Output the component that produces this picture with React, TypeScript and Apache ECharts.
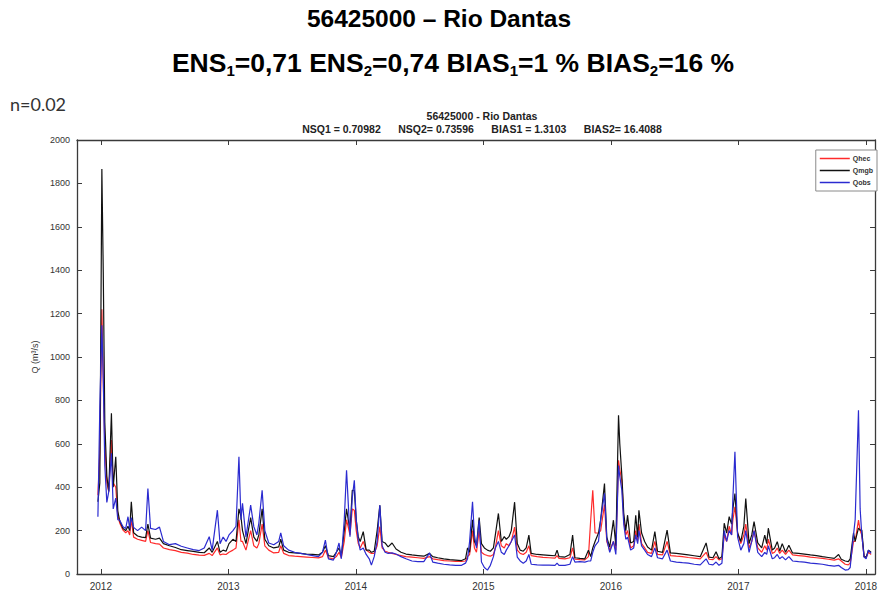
import React, { useEffect, useRef } from "react";
import * as echarts from "echarts";

const T = [
  2011.977, 2011.992, 2012.008, 2012.019, 2012.031, 2012.047, 2012.062, 2012.083, 2012.097, 2012.117,
  2012.133, 2012.148, 2012.174, 2012.195, 2012.213, 2012.226, 2012.239, 2012.257, 2012.288, 2012.320,
  2012.351, 2012.369, 2012.390, 2012.429, 2012.460, 2012.491, 2012.538, 2012.585, 2012.631, 2012.678,
  2012.725, 2012.772, 2012.811, 2012.850, 2012.873, 2012.914, 2012.935, 2012.959, 2012.982, 2013.005,
  2013.036, 2013.060, 2013.083, 2013.099, 2013.111, 2013.138, 2013.175, 2013.200, 2013.224, 2013.239,
  2013.265, 2013.286, 2013.317, 2013.356, 2013.395, 2013.411, 2013.434, 2013.473, 2013.520, 2013.567,
  2013.613, 2013.660, 2013.707, 2013.738, 2013.761, 2013.785, 2013.824, 2013.847, 2013.868, 2013.886,
  2013.909, 2013.927, 2013.954, 2013.972, 2013.988, 2014.003, 2014.019, 2014.034, 2014.058, 2014.081,
  2014.105, 2014.122, 2014.144, 2014.167, 2014.188, 2014.206, 2014.229, 2014.253, 2014.284, 2014.315,
  2014.354, 2014.393, 2014.440, 2014.486, 2014.533, 2014.578, 2014.603, 2014.642, 2014.689, 2014.736,
  2014.783, 2014.829, 2014.860, 2014.876, 2014.892, 2014.915, 2014.930, 2014.946, 2014.967, 2014.985,
  2015.008, 2015.032, 2015.055, 2015.079, 2015.094, 2015.118, 2015.141, 2015.164, 2015.180, 2015.201,
  2015.219, 2015.245, 2015.266, 2015.289, 2015.313, 2015.336, 2015.357, 2015.375, 2015.422, 2015.468,
  2015.515, 2015.562, 2015.578, 2015.593, 2015.640, 2015.679, 2015.700, 2015.718, 2015.757, 2015.796,
  2015.824, 2015.842, 2015.858, 2015.876, 2015.903, 2015.920, 2015.950, 2015.968, 2015.991, 2016.020,
  2016.039, 2016.060, 2016.070, 2016.086, 2016.101, 2016.117, 2016.131, 2016.155, 2016.179, 2016.195,
  2016.210, 2016.220, 2016.241, 2016.265, 2016.288, 2016.319, 2016.345, 2016.366, 2016.405, 2016.441,
  2016.467, 2016.514, 2016.561, 2016.607, 2016.654, 2016.701, 2016.747, 2016.770, 2016.801, 2016.825,
  2016.848, 2016.871, 2016.889, 2016.908, 2016.928, 2016.947, 2016.957, 2016.973, 2016.994, 2017.019,
  2017.043, 2017.058, 2017.084, 2017.105, 2017.123, 2017.152, 2017.183, 2017.207, 2017.222, 2017.235,
  2017.266, 2017.284, 2017.305, 2017.324, 2017.344, 2017.370, 2017.396, 2017.425, 2017.472, 2017.518,
  2017.565, 2017.612, 2017.659, 2017.705, 2017.752, 2017.786, 2017.807, 2017.838, 2017.862, 2017.877,
  2017.903, 2017.916, 2017.942, 2017.955, 2017.968, 2017.986, 2018.002, 2018.020, 2018.041,
];

// Qhec (red)
const QHEC = [
  363, 560, 1220, 900, 600, 420, 380, 617, 420, 400,
  270, 235, 202, 190, 200, 180, 250, 170, 160, 155,
  150, 200, 145, 140, 138, 120, 112, 108, 100, 96,
  90, 87, 86, 95, 85, 120, 88, 92, 90, 100,
  110, 120, 250, 150, 150, 110, 200, 130, 120, 140,
  230, 130, 110, 97, 100, 130, 95, 85, 82, 80,
  78, 76, 74, 80, 110, 75, 70, 80, 100, 75,
  150, 250, 180, 300, 294, 200, 140, 120, 150, 110,
  100, 95, 95, 130, 218, 120, 105, 100, 95, 90,
  85, 80, 78, 75, 72, 80, 70, 66, 62, 60,
  58, 58, 60, 80, 90, 200, 120, 100, 200, 100,
  90, 85, 82, 90, 120, 200, 130, 120, 140, 130,
  150, 216, 110, 95, 90, 100, 130, 85, 80, 77,
  75, 73, 85, 72, 70, 75, 120, 68, 66, 65,
  80, 250, 386, 189, 189, 200, 320, 150, 110, 150,
  110, 524, 480, 432, 250, 180, 200, 120, 130, 200,
  150, 230, 140, 120, 100, 95, 150, 90, 88, 150,
  85, 82, 80, 76, 73, 70, 100, 68, 66, 80,
  65, 70, 180, 150, 220, 180, 250, 310, 189, 140,
  180, 230, 120, 150, 200, 120, 100, 130, 110, 160,
  95, 100, 120, 95, 110, 90, 110, 88, 85, 82,
  78, 75, 72, 68, 64, 70, 60, 45, 42, 50,
  150, 150, 248, 200, 180, 80, 75, 100, 90,
];

// Qmgb (black)
const QMGB = [
  333, 420, 1866, 1391, 700, 450, 380, 741, 400, 540,
  290, 245, 210, 200, 220, 200, 333, 190, 175, 170,
  168, 230, 165, 160, 165, 140, 130, 122, 112, 108,
  104, 100, 98, 120, 100, 150, 100, 110, 105, 140,
  160, 150, 300, 264, 200, 140, 260, 170, 150, 180,
  300, 160, 130, 120, 125, 160, 110, 100, 97, 95,
  92, 90, 88, 100, 130, 85, 80, 100, 120, 85,
  200, 300, 200, 386, 386, 250, 170, 150, 195, 110,
  110, 100, 105, 200, 317, 150, 143, 125, 143, 115,
  100, 92, 88, 85, 82, 95, 80, 75, 70, 66,
  64, 62, 70, 120, 100, 250, 150, 130, 260, 140,
  120, 110, 105, 120, 180, 279, 150, 172, 160, 172,
  200, 331, 140, 110, 105, 120, 179, 95, 90, 88,
  86, 84, 110, 80, 78, 90, 179, 75, 72, 70,
  110, 80, 120, 150, 189, 250, 417, 170, 124, 248,
  130, 731, 600, 455, 280, 200, 271, 143, 150, 271,
  170, 294, 189, 150, 124, 110, 195, 105, 100, 202,
  97, 95, 92, 88, 84, 80, 143, 78, 75, 103,
  70, 80, 234, 189, 264, 230, 300, 371, 189, 150,
  220, 348, 140, 180, 241, 143, 120, 179, 140, 211,
  110, 120, 149, 105, 140, 100, 133, 97, 95, 92,
  88, 85, 80, 76, 72, 90, 68, 60, 57, 70,
  189, 150, 211, 202, 202, 80, 78, 110, 100,
];

// Qobs (blue)
const QOBS = [
  264, 770, 1146, 900, 500, 330, 380, 556, 300, 350,
  250, 248, 218, 210, 264, 210, 260, 215, 200, 216,
  200, 394, 210, 205, 216, 150, 135, 140, 128, 120,
  112, 108, 120, 172, 110, 294, 140, 170, 150, 180,
  200, 220, 540, 250, 326, 170, 317, 218, 180, 234,
  386, 200, 143, 135, 150, 189, 130, 110, 100, 95,
  90, 85, 80, 100, 156, 70, 64, 100, 143, 70,
  250, 478, 172, 350, 432, 250, 156, 110, 120, 90,
  70, 41, 80, 150, 317, 130, 100, 95, 97, 92,
  80, 70, 60, 57, 57, 97, 55, 50, 45, 42,
  40, 40, 50, 70, 150, 333, 180, 120, 248, 55,
  30, 18, 40, 80, 120, 150, 100, 90, 110, 130,
  150, 180, 78, 60, 50, 60, 90, 45, 42, 41,
  41, 40, 50, 40, 40, 45, 80, 55, 57, 55,
  60, 60, 100, 130, 150, 250, 372, 160, 100, 150,
  90, 500, 450, 386, 230, 160, 170, 110, 120, 180,
  140, 200, 130, 110, 90, 80, 120, 75, 70, 110,
  60, 55, 52, 50, 45, 42, 70, 45, 42, 55,
  40, 50, 200, 150, 200, 180, 350, 563, 170, 110,
  140, 200, 100, 150, 200, 100, 80, 100, 90, 130,
  70, 75, 90, 70, 80, 65, 80, 60, 57, 55,
  50, 48, 45, 40, 36, 40, 30, 18, 20, 30,
  180, 250, 754, 300, 180, 78, 70, 110, 95,
];

const YEAR_TICKS = [2012, 2013, 2014, 2015, 2016, 2017, 2018];
const SERIES_NAMES = ["Qhec", "Qmgb", "Qobs"];

const X_MIN = 2011.813;
const X_MAX = 2018.072;

export default function App() {
  const ref = useRef<HTMLDivElement>(null);

  useEffect(() => {
    if (!ref.current) return;
    const chart = echarts.init(ref.current, undefined, { renderer: "svg" });
    const axisColor = "#3a3a3a";
    const toPairs = (vals: number[]) => T.map((t, i) => [t, vals[i]]);

    const option: any = {
      animation: false,
      backgroundColor: "#ffffff",
      grid: { left: 77, right: 1, top: 140, bottom: 21 },
      legend: {
        data: SERIES_NAMES,
        orient: "vertical",
        right: 3,
        top: 150,
        padding: [5, 4, 5, 4],
        itemGap: 5,
        itemWidth: 30,
        itemHeight: 1.5,
        icon: "rect",
        borderColor: "#8a8a8a",
        borderWidth: 1,
        backgroundColor: "#ffffff",
        textStyle: { fontSize: 7, fontWeight: "bold", color: "#333", padding: [0, 0, 0, -2] },
      },
      xAxis: [
        {
          type: "value",
          min: X_MIN,
          max: X_MAX,
          position: "bottom",
          axisLine: { onZero: false, lineStyle: { color: axisColor, width: 1.3 } },
          axisTick: { inside: true, length: 5, customValues: YEAR_TICKS, lineStyle: { color: axisColor } },
          axisLabel: {
            customValues: YEAR_TICKS,
            formatter: (v: number) => String(Math.round(v)),
            fontSize: 10,
            color: "#333",
            margin: 7,
            fontFamily: "Liberation Sans",
          },
          splitLine: { show: false },
        },
        {
          type: "value",
          min: X_MIN,
          max: X_MAX,
          position: "top",
          axisLine: { onZero: false, lineStyle: { color: axisColor, width: 1.3 } },
          axisTick: { inside: true, length: 5, customValues: YEAR_TICKS, lineStyle: { color: axisColor } },
          axisLabel: { show: false },
          splitLine: { show: false },
        },
      ],
      yAxis: [
        {
          type: "value",
          min: 0,
          max: 2000,
          interval: 200,
          position: "left",
          name: "Q (m³/s)",
          nameLocation: "middle",
          nameGap: 38,
          nameRotate: 90,
          nameTextStyle: { fontSize: 9, color: "#333", fontFamily: "Liberation Sans" },
          axisLine: { show: true, onZero: false, lineStyle: { color: axisColor, width: 1.3 } },
          axisTick: { show: true, inside: true, length: 5, lineStyle: { color: axisColor } },
          axisLabel: {
            fontSize: 9,
            color: "#333",
            margin: 7,
            fontFamily: "Liberation Sans",
            formatter: (v: number) => String(v),
          },
          splitLine: { show: false },
        },
        {
          type: "value",
          min: 0,
          max: 2000,
          interval: 200,
          position: "right",
          axisLine: { show: true, onZero: false, lineStyle: { color: axisColor, width: 1.3 } },
          axisTick: { show: true, inside: true, length: 5, lineStyle: { color: axisColor } },
          axisLabel: { show: false },
          splitLine: { show: false },
        },
      ],
      series: [
        {
          name: SERIES_NAMES[0],
          type: "line",
          symbol: "none",
          data: toPairs(QHEC),
          lineStyle: { color: "#ff2a2a", width: 1.2 },
          itemStyle: { color: "#ff2a2a" },
        },
        {
          name: SERIES_NAMES[1],
          type: "line",
          symbol: "none",
          data: toPairs(QMGB),
          lineStyle: { color: "#111111", width: 1.2 },
          itemStyle: { color: "#111111" },
        },
        {
          name: SERIES_NAMES[2],
          type: "line",
          symbol: "none",
          data: toPairs(QOBS),
          lineStyle: { color: "#2b2bd0", width: 1.2 },
          itemStyle: { color: "#2b2bd0" },
        },
      ],
      graphic: [
        {
          type: "text",
          x: 439,
          y: 18,
          style: {
            text: "56425000 – Rio Dantas",
            fontSize: 24.5,
            fontWeight: "bold",
            fontFamily: "Liberation Sans",
            fill: "#000",
            align: "center",
            verticalAlign: "middle",
          },
        },
        {
          type: "text",
          x: 453,
          y: 63,
          style: {
            text:
              "{b|ENS}{s|1}{b|=0,71 ENS}{s|2}{b|=0,74 BIAS}{s|1}{b|=1 % BIAS}{s|2}{b|=16 %}",
            align: "center",
            verticalAlign: "middle",
            rich: {
              b: { fontSize: 26.5, fontWeight: "bold", fontFamily: "Liberation Sans", fill: "#000", color: "#000", lineHeight: 30, verticalAlign: "middle" },
              s: { fontSize: 15, fontWeight: "bold", fontFamily: "Liberation Sans", fill: "#000", color: "#000", lineHeight: 10, verticalAlign: "bottom" },
            },
          },
        },
        {
          type: "text",
          x: 10,
          y: 104,
          style: {
            text: "n=0.02",
            fontSize: 18,
            fontFamily: "Lato",
            fill: "#333",
            align: "left",
            verticalAlign: "middle",
          },
        },
        {
          type: "text",
          x: 482,
          y: 116,
          style: {
            text: "56425000 - Rio Dantas",
            fontSize: 10.5,
            fontWeight: "bold",
            fontFamily: "Liberation Sans",
            fill: "#222",
            align: "center",
            verticalAlign: "middle",
          },
        },
        {
          type: "text",
          x: 482,
          y: 129,
          style: {
            text: "NSQ1 = 0.70982      NSQ2= 0.73596      BIAS1 = 1.3103      BIAS2= 16.4088",
            fontSize: 10.5,
            fontWeight: "bold",
            fontFamily: "Liberation Sans",
            fill: "#222",
            align: "center",
            verticalAlign: "middle",
          },
        },
      ],
    };

    chart.setOption(option);
    return () => chart.dispose();
  }, []);

  return <div ref={ref} style={{ width: 880, height: 595, position: "absolute", left: 0, top: 0 }} />;
}
